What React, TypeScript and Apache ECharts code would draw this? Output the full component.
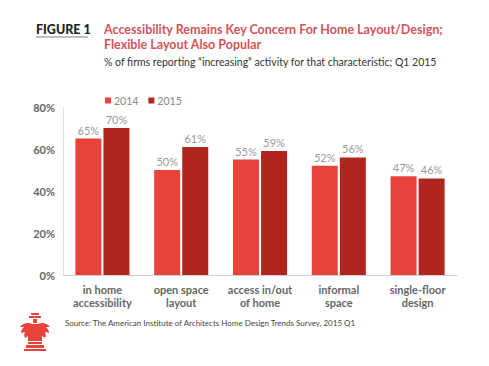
import React, { useEffect, useRef } from "react";
import * as echarts from "echarts";

const categories = [
  "in home\naccessibility",
  "open space\nlayout",
  "access in/out\nof home",
  "informal\nspace",
  "single-floor\ndesign",
];
const values2014 = [65, 50, 55, 52, 47];
const values2015 = [70, 61, 59, 56, 46];
const yTicks = [0, 20, 40, 60, 80];

const logoPath =
  "M11 0H19V2H11Z M9 3H21V5H9Z M13 6H17V10H13Z M12 11C8 9 3 10 0 14L4 14C2 16 1 18 1 20L5 19C4 21 4 23 5 25L8 23L8 28H22V23L25 25C26 23 26 21 25 19L29 20C29 18 28 16 26 14L30 14C27 10 22 9 18 11Z M8 29H22V31H8Z M6 32H24V35H6Z M4 36H26V38H4Z";

export default function App() {
  const ref = useRef<HTMLDivElement>(null);
  useEffect(() => {
    if (!ref.current) return;
    try {
      echarts.graphic.registerShape("logo", echarts.graphic.extendPath(logoPath, {}) as any);
    } catch (e) {}
    const chart = echarts.init(ref.current, null, { renderer: "svg" });
    const font = "Lato, 'Open Sans', sans-serif";
    const labelStyle = {
      show: true,
      position: "top",
      formatter: "{c}%",
      color: "#999",
      fontSize: 11,
      distance: 3,
      fontFamily: font,
    };
    chart.setOption({
      animation: false,
      backgroundColor: "#ffffff",
      textStyle: { fontFamily: font },
      legend: {
        left: 100,
        top: 90,
        itemWidth: 6,
        itemHeight: 6,
        itemGap: 10,
        icon: "rect",
        textStyle: { color: "#888", fontSize: 10.5, fontFamily: font, padding: [0, 0, 0, -2] },
        data: ["2014", "2015"],
      },
      grid: { left: 63, right: 32, top: 107, bottom: 91 },
      xAxis: {
        type: "category",
        data: categories,
        axisLine: { lineStyle: { color: "#ccc" } },
        axisTick: { show: false },
        axisLabel: {
          color: "#666",
          fontWeight: "bold",
          fontSize: 11,
          lineHeight: 13,
          margin: 8,
          interval: 0,
          fontFamily: font,
        },
      },
      yAxis: {
        type: "value",
        min: yTicks[0],
        max: yTicks[yTicks.length - 1],
        interval: 20,
        splitLine: { show: false },
        axisLine: { show: true, lineStyle: { color: "#e0e0e0" } },
        axisLabel: {
          formatter: "{value}%",
          color: "#666",
          fontWeight: "bold",
          fontSize: 11,
          margin: 8,
          fontFamily: font,
        },
      },
      series: [
        {
          name: "2014",
          type: "bar",
          data: values2014,
          barWidth: 26,
          barGap: "8%",
          itemStyle: { color: "#E8423A" },
          label: labelStyle,
        },
        {
          name: "2015",
          type: "bar",
          data: values2015,
          barWidth: 26,
          itemStyle: { color: "#B0261F" },
          label: labelStyle,
        },
      ],
      graphic: [
        {
          type: "text",
          left: 36,
          top: 23,
          style: { text: "FIGURE 1", fill: "#222", font: `900 12.5px ${font}` },
        },
        {
          type: "line",
          shape: { x1: 36, y1: 37, x2: 88, y2: 37 },
          style: { stroke: "#aaa", lineWidth: 1.5 },
        },
        {
          type: "text",
          left: 104,
          top: 22,
          style: {
            text: "Accessibility Remains Key Concern For Home Layout/Design;\nFlexible Layout Also Popular",
            fill: "#D4535A",
            font: `bold 12.5px ${font}`,
            lineHeight: 15,
          },
        },
        {
          type: "text",
          left: 104,
          top: 56,
          style: {
            text: "% of firms reporting \u201cincreasing\u201d activity for that characteristic; Q1 2015",
            fill: "#333",
            font: `10.5px ${font}`,
          },
        },
        {
          type: "text",
          left: 65,
          top: 319,
          style: {
            text: "Source: The American Institute of Architects Home Design Trends Survey, 2015 Q1",
            fill: "#444",
            font: `8px ${font}`,
          },
        },
        {
          type: "logo",
          x: 20,
          y: 313,
          scaleX: 1,
          scaleY: 1,
          style: { fill: "#E8423A" },
        },
      ],
    });
    return () => chart.dispose();
  }, []);
  return (
    <div
      ref={ref}
      style={{ position: "absolute", left: 0, top: 0, width: 489, height: 366 }}
    />
  );
}
